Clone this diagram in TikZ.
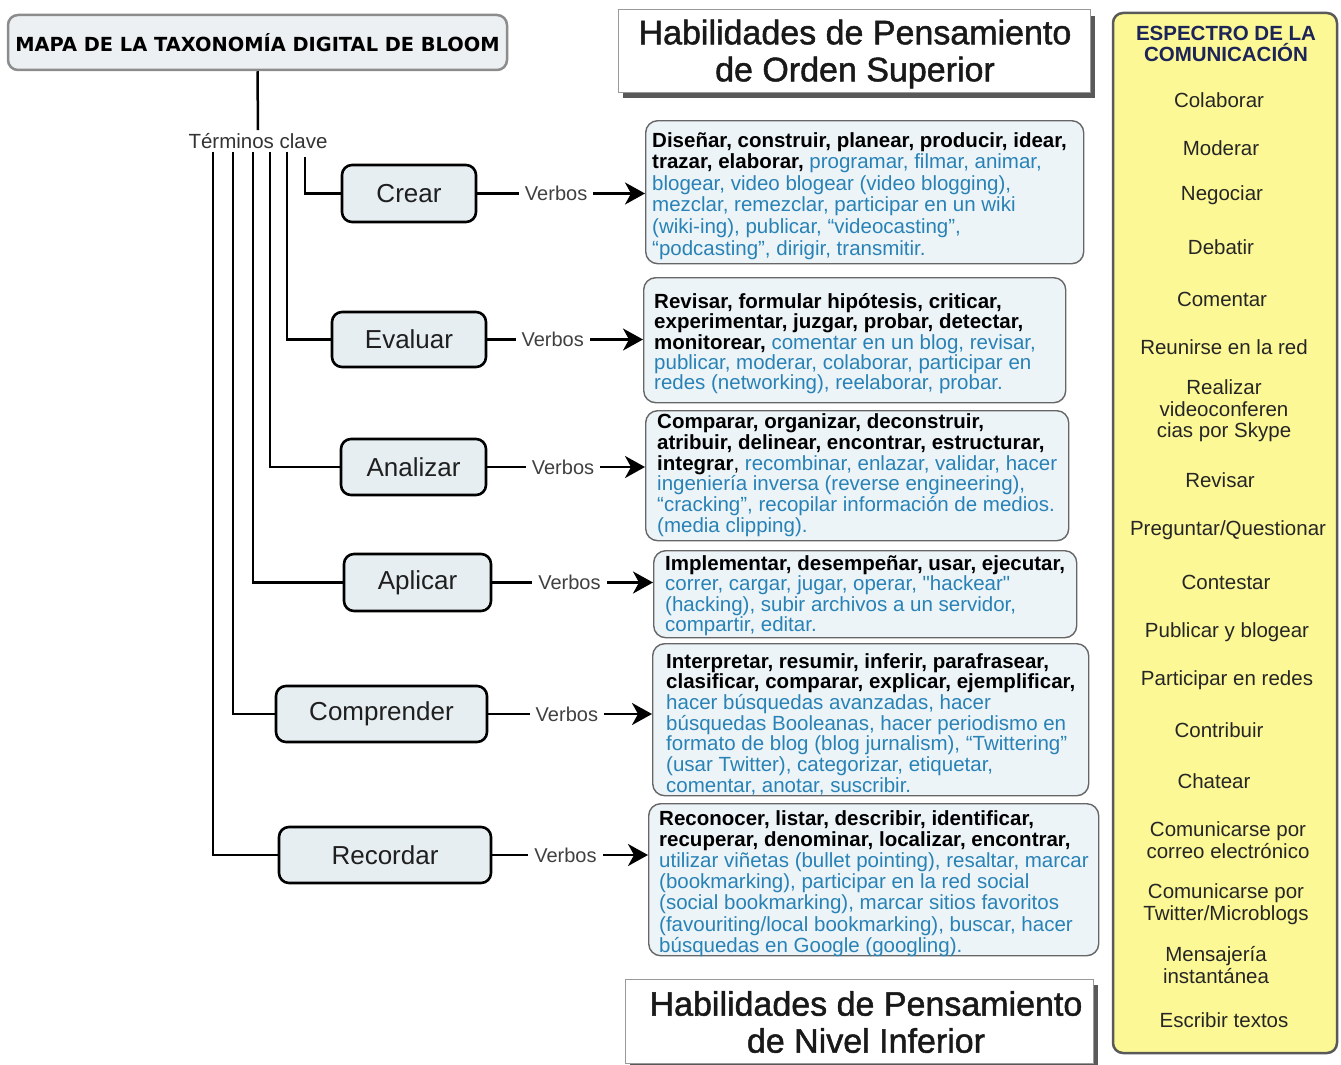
\documentclass[tikz,border=0pt]{standalone}
\usepackage{fontspec}
\setmainfont{Liberation Sans}[Ligatures=TeXOff]
\newfontfamily\titlefont{DejaVu Sans}
\newfontfamily\hdrfont{Liberation Sans}[FakeBold=1.4]
\usetikzlibrary{arrows.meta,shadows}
\definecolor{vblue}{RGB}{40,130,182}
\definecolor{lvlfill}{RGB}{230,238,242}
\definecolor{vfill}{RGB}{237,244,248}
\definecolor{titfill}{RGB}{236,240,242}
\definecolor{ylw}{RGB}{252,248,150}
\definecolor{navy}{RGB}{28,36,88}
\newcommand{\vbk}[1]{{\color{black}\bfseries #1}}
\begin{document}
\begin{tikzpicture}[x=1pt,y=-1pt,
  titlebox/.style={draw=black!45, line width=2.5pt, rounded corners=10pt, fill=titfill, inner sep=0pt,
    font=\titlefont\bfseries\fontsize{19.4}{22}\selectfont},
  terms/.style={inner sep=3pt, text=black!80, font=\fontsize{20.5}{24}\selectfont},
  lvl/.style={draw=black, line width=2.6pt, rounded corners=10pt, fill=lvlfill, inner sep=0pt,
    text=black!88, font=\fontsize{26}{30}\selectfont},
  vbox/.style={draw=black!60, line width=1.4pt, rounded corners=12pt, fill=vfill, inner sep=0pt, anchor=north west},
  vtext/.style={anchor=north west, inner sep=0pt, align=left, text=vblue, font=\fontsize{20.5}{21}\selectfont},
  verb/.style={fill=white, inner xsep=6pt, inner ysep=2pt, text=black!75, font=\fontsize{20}{24}\selectfont},
  conn/.style={line width=2.5pt, black},
  arr/.style={conn, -{Stealth[length=20pt, width=22pt, inset=6pt]}},
  hdr/.style={draw=black!40, line width=1pt, fill=white, inner sep=0pt,
    drop shadow={shadow xshift=5pt, shadow yshift=-6pt, fill=black!65, opacity=1}},
  hdrtext/.style={align=center, inner sep=0pt, text=black!90, font=\hdrfont\fontsize{34}{37}\selectfont},
  ycol/.style={draw=black!65, line width=2.5pt, rounded corners=10pt, fill=ylw, inner sep=0pt},
  yhead/.style={align=center, text=navy, font=\bfseries\fontsize{20.5}{21.5}\selectfont},
  yitem/.style={align=center, text=black!85, font=\fontsize{20.5}{21.5}\selectfont}
]
\useasboundingbox (0,0) rectangle (1341,1065);

% title and key terms
\node[titlebox, minimum width=499pt, minimum height=55pt] (title) at (257.5,42.5) {MAPA DE LA TAXONOMÍA DIGITAL DE BLOOM};
\node[terms] (terms) at (258,141) {Términos clave};
\draw[conn] (title.south) -- (terms.north);

% level boxes
\node[lvl, minimum width=134pt, minimum height=57pt] (crear) at (409,193.5) {Crear};
\node[lvl, minimum width=154pt, minimum height=55pt] (evaluar) at (409,339.5) {Evaluar};
\node[lvl, minimum width=145pt, minimum height=56pt] (analizar) at (413.5,467) {Analizar};
\node[lvl, minimum width=147pt, minimum height=57pt] (aplicar) at (417.5,582.5) {Aplicar};
\node[lvl, minimum width=211pt, minimum height=56pt] (comprender) at (381.5,714) {Comprender};
\node[lvl, minimum width=212pt, minimum height=56pt] (recordar) at (385,855) {Recordar};

% tree connectors
\draw[conn] ([xshift=47pt,yshift=-5pt]terms.south) |- (crear.west);
\draw[conn] ([xshift=29pt]terms.south) |- (evaluar.west);
\draw[conn] ([xshift=12pt]terms.south) |- (analizar.west);
\draw[conn] ([xshift=-5pt]terms.south) |- (aplicar.west);
\draw[conn] ([xshift=-25pt]terms.south) |- (comprender.west);
\draw[conn] ([xshift=-45pt]terms.south) |- (recordar.west);

% verb boxes
\node[vbox, minimum width=438pt, minimum height=143pt] (v1) at (645,120) {};
\node[vbox, minimum width=422pt, minimum height=125pt] (v2) at (643,277) {};
\node[vbox, minimum width=423pt, minimum height=130pt] (v3) at (645,410) {};
\node[vbox, minimum width=423pt, minimum height=87pt] (v4) at (653,550) {};
\node[vbox, minimum width=436pt, minimum height=152pt] (v5) at (652,643) {};
\node[vbox, minimum width=450pt, minimum height=152pt] (v6) at (648,803) {};

\node[vtext, font=\fontsize{20.5}{21.6}\selectfont] (t1) at (652,132) {\vbk{Diseñar, construir, planear, producir, idear,}\\
\vbk{trazar, elaborar,} programar, filmar, animar,\\
blogear, video blogear (video blogging),\\
mezclar, remezclar, participar en un wiki\\
(wiki-ing), publicar, “videocasting”,\\
“podcasting”, dirigir, transmitir.};

\node[vtext, font=\fontsize{20.5}{20.4}\selectfont] (t2) at (654,293) {\vbk{Revisar, formular hipótesis, criticar,}\\
\vbk{experimentar, juzgar, probar, detectar,}\\
\vbk{monitorear,} comentar en un blog, revisar,\\
publicar, moderar, colaborar, participar en\\
redes (networking), reelaborar, probar.};

\node[vtext, font=\fontsize{20.5}{20.8}\selectfont] (t3) at (657,413.5) {\vbk{Comparar, organizar, deconstruir,}\\
\vbk{atribuir, delinear, encontrar, estructurar,}\\
\vbk{integrar}{\color{black},} recombinar, enlazar, validar, hacer\\
ingeniería inversa (reverse engineering),\\
“cracking”, recopilar información de medios.\\
(media clipping).};

\node[vtext, font=\fontsize{20.5}{20.6}\selectfont] (t4) at (665,555) {\vbk{Implementar, desempeñar, usar, ejecutar,}\\
correr, cargar, jugar, operar, "hackear"\\
(hacking), subir archivos a un servidor,\\
compartir, editar.};

\node[vtext, font=\fontsize{20.5}{20.7}\selectfont] (t5) at (666,653) {\vbk{Interpretar, resumir, inferir, parafrasear,}\\
\vbk{clasificar, comparar, explicar, ejemplificar,}\\
hacer búsquedas avanzadas, hacer\\
búsquedas Booleanas, hacer periodismo en\\
formato de blog (blog jurnalism), “Twittering”\\
(usar Twitter), categorizar, etiquetar,\\
comentar, anotar, suscribir.};

\node[vtext, font=\fontsize{20.5}{21.2}\selectfont] (t6) at (659,810) {\vbk{Reconocer, listar, describir, identificar,}\\
\vbk{recuperar, denominar, localizar, encontrar,}\\
utilizar viñetas (bullet pointing), resaltar, marcar\\
(bookmarking), participar en la red social\\
(social bookmarking), marcar sitios favoritos\\
(favouriting/local bookmarking), buscar, hacer\\
búsquedas en Google (googling).};

% verb arrows
\draw[arr] (crear.east) -- node[verb, pos=0.47]{Verbos} (crear.east -| v1.west);
\draw[arr] (evaluar.east) -- node[verb, pos=0.42]{Verbos} (evaluar.east -| v2.west);
\draw[arr] (analizar.east) -- node[verb, pos=0.48]{Verbos} (analizar.east -| v3.west);
\draw[arr] (aplicar.east) -- node[verb, pos=0.48]{Verbos} (aplicar.east -| v4.west);
\draw[arr] (comprender.east) -- node[verb, pos=0.48]{Verbos} (comprender.east -| v5.west);
\draw[arr] (recordar.east) -- node[verb, pos=0.47]{Verbos} (recordar.east -| v6.west);

% headers
\node[hdr, minimum width=472pt, minimum height=82pt] (hsup) at (854,51) {};
\node[hdrtext] (hsupt) at (855,54) {Habilidades de Pensamiento\\de Orden Superior};
\node[hdr, minimum width=468pt, minimum height=84pt] (hinf) at (859,1021) {};
\node[hdrtext] (hinft) at (866,1022) {Habilidades de Pensamiento\\de Nivel Inferior};

% communication spectrum
\node[ycol, minimum width=224pt, minimum height=1040pt] (spec) at (1225,533) {};
\node[yhead] (sh) at (1226,44) {ESPECTRO DE LA\\COMUNICACIÓN};
\node[yitem] (s1) at (1219,100) {Colaborar};
\node[yitem] (s2) at (1221,148) {Moderar};
\node[yitem] (s3) at (1222,195) {Negociar};
\node[yitem] (s4) at (1221,247) {Debatir};
\node[yitem] (s5) at (1222,299) {Comentar};
\node[yitem] (s6) at (1224,347) {Reunirse en la red};
\node[yitem] (s7) at (1224,411) {Realizar\\videoconferen\\cias por Skype};
\node[yitem] (s8) at (1220,480) {Revisar};
\node[yitem] (s9) at (1228,530) {Preguntar/Questionar};
\node[yitem] (s10) at (1226,582) {Contestar};
\node[yitem] (s11) at (1227,632) {Publicar y blogear};
\node[yitem] (s12) at (1227,680) {Participar en redes};
\node[yitem] (s13) at (1219,730) {Contribuir};
\node[yitem] (s14) at (1214,781) {Chatear};
\node[yitem] (s15) at (1228,840) {Comunicarse por\\correo electrónico};
\node[yitem] (s16) at (1226,904) {Comunicarse por\\Twitter/Microblogs};
\node[yitem] (s17) at (1216,965) {Mensajería\\instantánea};
\node[yitem] (s18) at (1224,1020) {Escribir textos};
\end{tikzpicture}
\end{document}
